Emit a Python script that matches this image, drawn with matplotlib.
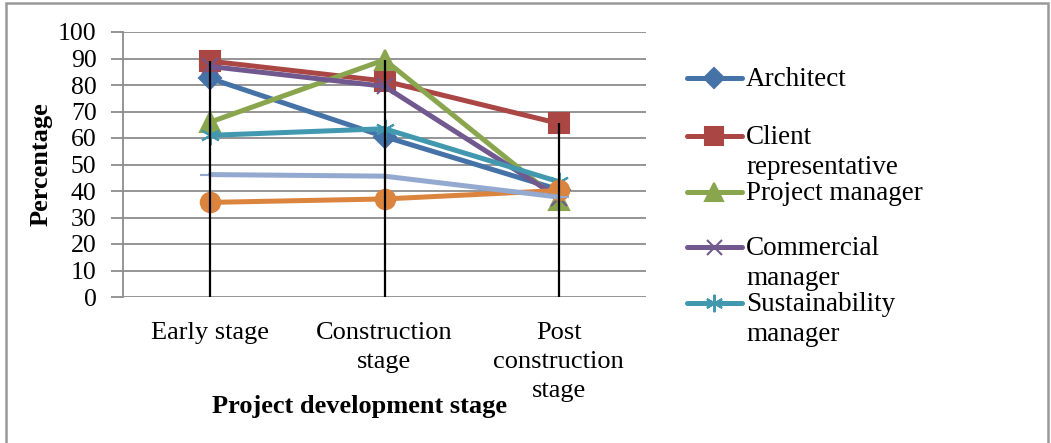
import matplotlib
matplotlib.use("Agg")
import matplotlib.pyplot as plt
from matplotlib.lines import Line2D
from matplotlib.patches import Rectangle

# ---- data ----
stages = ["Early stage", "Construction\nstage", "Post\nconstruction\nstage"]
architect = [82.5, 60.5, 40.5]
client_rep = [89.0, 81.5, 65.5]
project_mgr = [66.0, 89.5, 36.5]
commercial_mgr = [87.0, 79.5, 37.5]
sustainability_mgr = [61.0, 63.5, 43.5]
series_orange = [35.7, 37.0, 40.2]
series_lightblue = [46.2, 45.6, 37.7]
legend_labels = ["Architect", "Client\nrepresentative", "Project manager",
                 "Commercial\nmanager", "Sustainability\nmanager"]
yticks = [0, 10, 20, 30, 40, 50, 60, 70, 80, 90, 100]

plt.rcParams['font.family'] = ['Liberation Serif', 'DejaVu Serif']

W, H = 1051, 443
fig = plt.figure(figsize=(W / 100, H / 100), dpi=100)

def fx(px):
    return px / W

def fy(py):
    return 1 - py / H

ax = fig.add_axes([fx(123), fy(297), (646 - 123) / W, (297 - 32) / H])

series = [
    (architect, '#4572A7', 'D', 11),
    (client_rep, '#AA4643', 's', 14),
    (project_mgr, '#89A54E', '^', 14),
    (commercial_mgr, '#71588F', 'x', 12),
    (sustainability_mgr, '#4198AF', (6, 2, 0), 14),
    (series_orange, '#DB843D', 'o', 14),
    (series_lightblue, '#93A9CF', '+', 14),
]

x = list(range(len(stages)))
for i, (vals, col, mk, ms) in enumerate(series):
    ax.plot(x, vals, color=col, lw=3.6, marker=mk, ms=ms,
            markeredgecolor=col, markerfacecolor=col, mew=1.5,
            solid_capstyle='round', zorder=3 + i * 0.1)

# drop lines (black) from the highest value down to the axis
all_vals = [s[0] for s in series]
tops = [max(v[j] for v in all_vals) for j in x]
ax.vlines(x, 0, tops, colors='black', lw=1.6, zorder=10)

ax.set_xlim(-0.5, 2.5)
ax.set_ylim(0, 100)
ax.set_yticks(yticks)
ax.set_yticklabels([str(t) for t in yticks], fontsize=18.5)
ax.set_xticks(x)
ax.set_xticklabels(stages, fontsize=19, linespacing=1.42)
ax.tick_params(axis='x', length=0, pad=18)
ax.tick_params(axis='y', length=9, width=1.3, color='#8c8c8c', pad=10, direction='out')
ax.grid(axis='y', color='#8c8c8c', lw=1.3, zorder=0)
ax.set_axisbelow(True)
for s in ['top', 'right', 'bottom']:
    ax.spines[s].set_visible(False)
ax.spines['left'].set_color('#8c8c8c')
ax.spines['left'].set_linewidth(1.3)

ax.set_ylabel("Percentage", fontsize=19, fontweight='bold')
ax.yaxis.set_label_coords((41 - 123) / 523, 0.5)
ax.yaxis.label.set_va('center')
ax.set_xlabel("Project development stage", fontsize=19, fontweight='bold')
ax.xaxis.set_label_coords((359 - 123) / 523, (297 - 407) / 265)
ax.xaxis.label.set_va('center')

# manual legend
leg_y = [78, 136, 192, 247, 303]
for (vals, col, mk, ms), lab, yy in zip(series[:5], legend_labels, leg_y):
    fig.add_artist(Line2D([fx(687), fx(742)], [fy(yy), fy(yy)], color=col, lw=3.6,
                          solid_capstyle='round', transform=fig.transFigure))
    fig.add_artist(Line2D([fx(714)], [fy(yy)], color=col, marker=mk, ms=ms * 0.9,
                          markeredgecolor=col, markerfacecolor=col, mew=1.5, lw=0,
                          transform=fig.transFigure))
    for k, line in enumerate(lab.split("\n")):
        fig.text(fx(746), fy(yy + k * 30 + 8), line, fontsize=19.5, va='baseline', ha='left')

# outer border
fig.add_artist(Rectangle((fx(6), fy(460)), fx(1048) - fx(6), fy(3) - fy(460),
                         fill=False, edgecolor='#999999', lw=1.8,
                         transform=fig.transFigure, clip_on=False))

fig.savefig("out.png", dpi=100)
